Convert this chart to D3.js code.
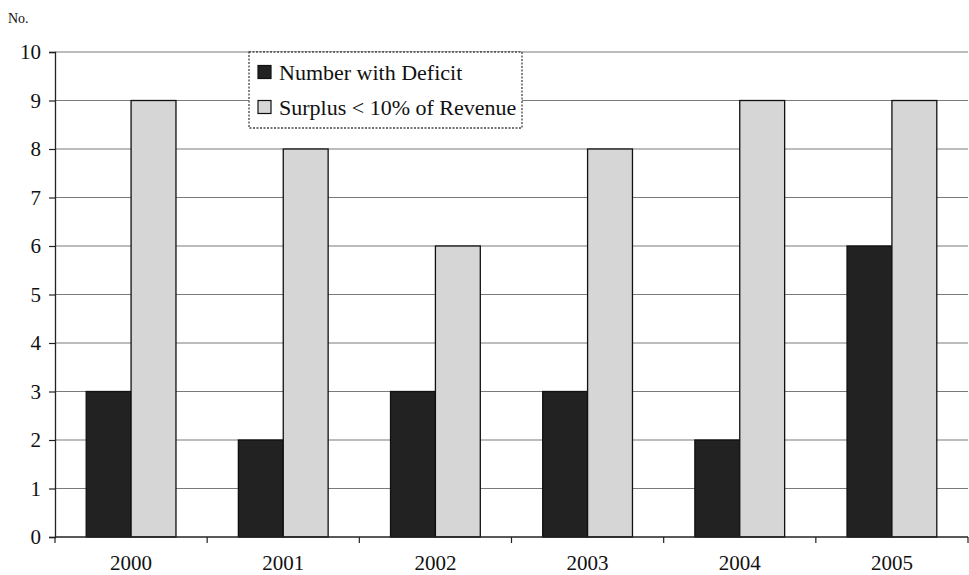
<!DOCTYPE html>
<html>
<head>
<meta charset="utf-8">
<script src="https://cdn.jsdelivr.net/npm/d3@7"></script>
<style>
  html, body { margin: 0; padding: 0; background: #fff; }
</style>
</head>
<body>
<svg id="chart" width="969" height="575"></svg>
<script>
// Yearly counts
const years = ["2000", "2001", "2002", "2003", "2004", "2005"];
const deficitCounts = [3, 2, 3, 3, 2, 6];
const lowSurplusCounts = [9, 8, 6, 8, 9, 9];
const seriesNames = ["Number with Deficit", "Surplus < 10% of Revenue"];
const yTicks = [0, 1, 2, 3, 4, 5, 6, 7, 8, 9, 10];

const colors = ["#222222", "#d6d6d6"];

// Pick the first installed serif face (checked by width against fallbacks)
function pickSerif() {
  const candidates = ["Liberation Serif", "Times New Roman", "Tinos", "DejaVu Serif", "Noto Serif", "FreeSerif", "Nimbus Roman", "Times"];
  const ctx = document.createElement("canvas").getContext("2d");
  const sample = "Number with Deficit Wmli 2000";
  const width = f => { ctx.font = "72px " + f; return ctx.measureText(sample).width; };
  const mono = width("monospace"), sans = width("sans-serif");
  for (const c of candidates) {
    const a = width(`"${c}", monospace`), b = width(`"${c}", sans-serif`);
    if (a !== mono && b !== sans) return `"${c}", serif`;
  }
  return "serif";
}
const fontFamily = pickSerif();

const svg = d3.select("#chart").style("font-family", fontFamily);
const margin = { left: 55, right: 1, top: 52, bottom: 38 };
const W = 969, H = 575;
const plotW = W - margin.left - margin.right;
const plotH = H - margin.top - margin.bottom;

const g = svg.append("g").attr("transform", `translate(${margin.left},${margin.top})`);

const x = d3.scaleBand().domain(years).range([0, plotW]).paddingInner(0).paddingOuter(0);
const y = d3.scaleLinear().domain([0, 10]).range([plotH, 0]);
const barW = x.bandwidth() * 0.295;

// Horizontal gridlines
g.append("g")
  .selectAll("line")
  .data(yTicks.filter(d => d > 0))
  .join("line")
  .attr("x1", 0).attr("x2", plotW)
  .attr("y1", d => y(d)).attr("y2", d => y(d))
  .attr("stroke", "#7a7a7a").attr("stroke-width", 1.2);

// Bars
const rows = years.map((yr, i) => ({ yr, vals: [deficitCounts[i], lowSurplusCounts[i]] }));
const groups = g.append("g").selectAll("g")
  .data(rows).join("g")
  .attr("transform", d => `translate(${x(d.yr) + x.bandwidth() / 2},0)`);

groups.selectAll("rect")
  .data(d => d.vals.map((v, k) => ({ v, k })))
  .join("rect")
  .attr("x", d => (d.k === 0 ? -barW : 0))
  .attr("width", barW)
  .attr("y", d => y(d.v))
  .attr("height", d => plotH - y(d.v))
  .attr("fill", d => colors[d.k])
  .attr("stroke", "#111")
  .attr("stroke-width", 1.3);

// Y axis
const yAxis = d3.axisLeft(y).tickValues(yTicks).tickSize(6).tickPadding(8).tickFormat(d3.format("d"));
const ya = g.append("g").call(yAxis).attr("font-family", fontFamily);
ya.select(".domain").attr("stroke", "#222").attr("stroke-width", 1.3);
ya.selectAll(".tick line").attr("stroke", "#222").attr("stroke-width", 1.2);
ya.selectAll("text").attr("font-size", 21).attr("fill", "#111");

// X axis: ticks at category boundaries
const xa = g.append("g").attr("transform", `translate(0,${plotH})`);
xa.append("line").attr("x1", 0).attr("x2", plotW).attr("y1", 0).attr("y2", 0)
  .attr("stroke", "#222").attr("stroke-width", 1.3);
xa.selectAll("line.bt")
  .data(years.map(d => x(d)).concat([plotW]))
  .join("line").attr("class", "bt")
  .attr("x1", d => d).attr("x2", d => d).attr("y1", 0).attr("y2", 6)
  .attr("stroke", "#222").attr("stroke-width", 1.2);
xa.selectAll("text")
  .data(years).join("text")
  .attr("x", d => x(d) + x.bandwidth() / 2)
  .attr("y", 33)
  .attr("text-anchor", "middle")
  .attr("font-size", 21).attr("fill", "#111")
  .text(d => d);

// Unit label
svg.append("text").attr("x", 8).attr("y", 23)
  .attr("font-size", 14).attr("fill", "#111").text("No.");

// Legend
const lg = svg.append("g").attr("transform", "translate(249,52)");
lg.append("rect").attr("width", 273).attr("height", 76)
  .attr("fill", "#fff").attr("stroke", "#444").attr("stroke-width", 1.3)
  .attr("stroke-dasharray", "2,1.5");
seriesNames.forEach((name, i) => {
  const row = lg.append("g").attr("transform", `translate(9,${20 + i * 35})`);
  row.append("rect").attr("x", 0).attr("y", -6.5).attr("width", 13).attr("height", 13)
    .attr("fill", colors[i]).attr("stroke", "#111").attr("stroke-width", 1.2);
  row.append("text").attr("x", 21).attr("y", 7.5)
    .attr("font-size", 22).attr("fill", "#111").text(name);
});
</script>
</body>
</html>
